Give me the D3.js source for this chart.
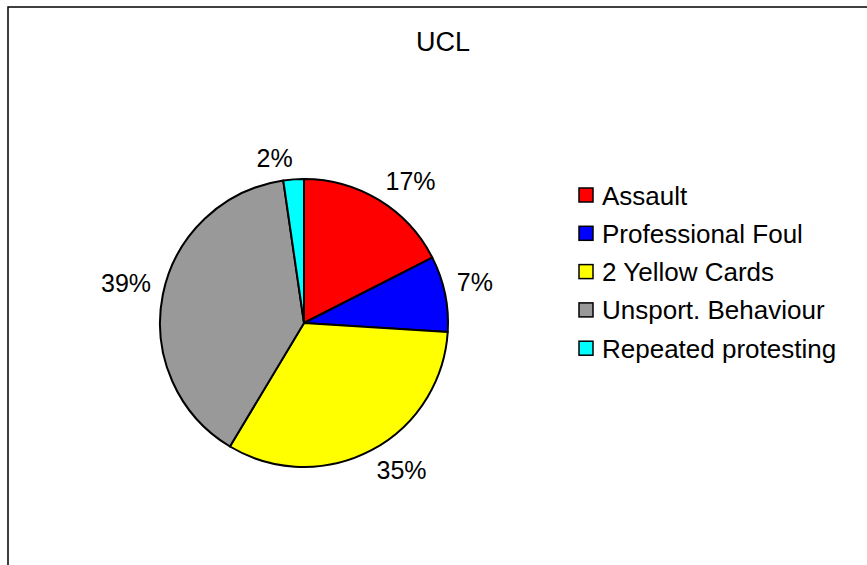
<!DOCTYPE html>
<html>
<head>
<meta charset="utf-8">
<script src="https://cdn.jsdelivr.net/npm/d3@7"></script>
<style>
  html, body { margin: 0; padding: 0; background: #fff; overflow: hidden; }
  text { font-family: Arial, "Liberation Sans", sans-serif; fill: #000; }
</style>
</head>
<body>
<svg width="867" height="565"></svg>
<script>
// chart data
const title = "UCL"
const categories = ["Assault", "Professional Foul", "2 Yellow Cards", "Unsport. Behaviour", "Repeated protesting"]
// slice shares as drawn (the printed labels don't quite add up with the geometry)
const shares = [17.5, 8.5, 32.6, 39.1, 2.3]
const pctLabels = ["17%", "7%", "35%", "39%", "2%"]
const colours = ["#ff0000", "#0000ff", "#ffff00", "#999999", "#00ffff"]

const svg = d3.select("svg"),
    width = +svg.attr("width"),
    height = +svg.attr("height")

// outer frame, runs off the right and bottom like the original
svg.append("rect")
    .attr("x", 8).attr("y", 7)
    .attr("width", width + 20).attr("height", height + 20)
    .attr("fill", "none")
    .attr("stroke", "#000")
    .attr("stroke-width", 1.5)

svg.append("text")
    .attr("x", 443).attr("y", 51)
    .attr("text-anchor", "middle")
    .style("font-size", "27px")
    .text(title)

const cx = 304, cy = 323, radius = 144

const colour = d3.scaleOrdinal().domain(categories).range(colours)

const pie = d3.pie().sort(null).value(d => d.v)
const arc = d3.arc().innerRadius(0).outerRadius(radius)

const slices = pie(categories.map((c, i) => ({ c: c, v: shares[i], label: pctLabels[i] })))

const g = svg.append("g").attr("transform", "translate(" + cx + "," + cy + ")")

g.selectAll("path.slice")
    .data(slices)
    .enter()
    .append("path")
    .attr("class", "slice")
    .attr("d", arc)
    .attr("fill", d => colour(d.data.c))
    .attr("stroke", "#000")
    .attr("stroke-width", 2)
    .attr("stroke-linejoin", "round")

// percentage labels: the box corner nearest the pie sits on a ring just outside the rim
const labelSize = 25, capH = labelSize * 0.716, gap = 12
const labelArc = d3.arc().innerRadius(radius + gap).outerRadius(radius + gap)
g.selectAll("text.pct")
    .data(slices)
    .enter()
    .append("text")
    .attr("class", "pct")
    .style("font-size", labelSize + "px")
    .attr("text-anchor", "middle")
    .text(d => d.data.label)
    .each(function (d) {
        const [px, py] = labelArc.centroid(d),
            w = this.getComputedTextLength(),
            x = px + Math.sign(px) * w / 2,
            y = py + Math.sign(py) * capH / 2
        d3.select(this)
            .attr("x", x)
            .attr("y", y + capH / 2)
    })

// legend
const legendX = 579, legendY = 195, rowH = 38.3, box = 14
const legend = svg.append("g")
    .selectAll("g")
    .data(categories)
    .enter()
    .append("g")
    .attr("transform", (d, i) => "translate(" + legendX + "," + (legendY + i * rowH) + ")")

legend.append("rect")
    .attr("x", 0).attr("y", -box / 2)
    .attr("width", box).attr("height", box)
    .attr("fill", d => colour(d))
    .attr("stroke", "#000")
    .attr("stroke-width", 1.5)

legend.append("text")
    .attr("x", 23)
    .attr("y", 9.5)
    .style("font-size", "26px")
    .text(d => d)
</script>
</body>
</html>
